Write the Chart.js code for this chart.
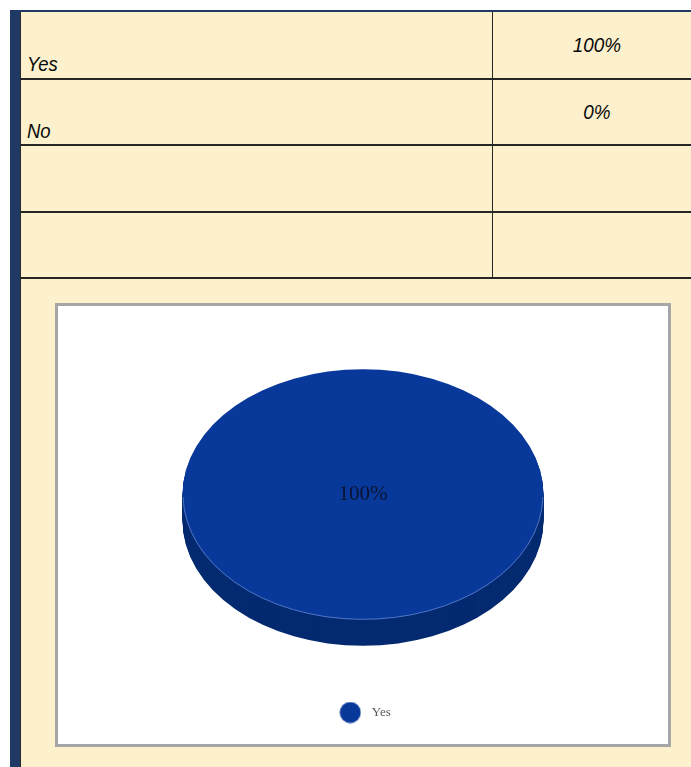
<!DOCTYPE html>
<html lang="en">
<head>
    <meta charset="UTF-8">
    <title>Yes / No</title>
    <script src="https://cdn.jsdelivr.net/npm/chart.js"></script>
    <style>
        body {
            margin: 0;
            width: 691px;
            height: 767px;
            overflow: hidden;
            position: relative;
            background: #ffffff;
            font-family: 'Liberation Sans', Arial, sans-serif;
        }
        .navy-left { position: absolute; left: 10px; top: 10px; width: 10px; height: 757px; background: #1f3864; }
        .navy-top { position: absolute; left: 10px; top: 10px; width: 681px; height: 2px; background: #1f3864; }
        .sheet { position: absolute; left: 20px; top: 12px; right: 0; bottom: 0; background: #fdf0cd; border-left: 1.5px solid #2a2a2a; }
        .hline { position: absolute; left: 20px; width: 671px; height: 1.5px; background: #262626; }
        .vline { position: absolute; left: 491.5px; top: 12px; width: 1.5px; height: 267px; background: #262626; }
        .cell-text {
            position: absolute;
            font-style: italic;
            font-size: 21px;
            line-height: 24px;
            color: #0a0a0a;
            white-space: nowrap;
        }
        .cell-label { left: 27px; transform: scaleX(0.88); transform-origin: left center; }
        .cell-value { left: 497px; width: 200px; text-align: center; transform: scaleX(0.9); transform-origin: center; }
        .chart-box {
            position: absolute;
            left: 55px;
            top: 303px;
            width: 610px;
            height: 438px;
            background: #ffffff;
            border: 3px solid #a6a6a6;
        }
    </style>
</head>
<body>
    <div class="navy-left"></div>
    <div class="navy-top"></div>
    <div class="sheet"></div>
    <div class="vline"></div>
    <div id="tableArea"></div>
    <div class="chart-box">
        <canvas id="pieChart"></canvas>
    </div>
    <script>
        // data
        const categories = ['Yes', 'No'];
        const percentValues = [100, 0];
        const sliceColors = ['#08399a', '#c0504d'];
        const sideColors = ['#042a70', '#8c3836'];

        // table rows (two empty rows under the answers)
        const rowLines = [79, 145, 212, 278];
        const tableArea = document.getElementById('tableArea');
        rowLines.forEach(function (y) {
            const line = document.createElement('div');
            line.className = 'hline';
            line.style.top = (y - 0.75) + 'px';
            tableArea.appendChild(line);
        });
        categories.forEach(function (cat, i) {
            const rowTop = i === 0 ? 12 : rowLines[i - 1];
            const label = document.createElement('div');
            label.className = 'cell-text cell-label';
            label.style.top = (rowTop + 40) + 'px';
            label.textContent = cat;
            tableArea.appendChild(label);

            const value = document.createElement('div');
            value.className = 'cell-text cell-value';
            value.style.top = (rowTop + 21) + 'px';
            value.textContent = percentValues[i] + '%';
            tableArea.appendChild(value);
        });

        const TILT = 125 / 180;
        const DEPTH = 26;

        function circleIcon(color) {
            const c = document.createElement('canvas');
            c.width = 22;
            c.height = 22;
            const g = c.getContext('2d');
            g.fillStyle = color;
            g.beginPath();
            g.arc(11, 11, 10.5, 0, Math.PI * 2);
            g.fill();
            return c;
        }

        // squashes the pie into an ellipse and gives it a side wall
        const pie3d = {
            id: 'pie3d',
            beforeDatasetsDraw(chart) {
                const ctx = chart.ctx;
                const arcs = chart.getDatasetMeta(0).data;
                if (!arcs.length) return;
                const cx = arcs[0].x, cy = arcs[0].y;
                ctx.save();
                for (let d = DEPTH; d > 0; d--) {
                    ctx.save();
                    ctx.translate(cx, cy + d);
                    ctx.scale(1, TILT);
                    ctx.translate(-cx, -cy);
                    arcs.forEach(function (arc, i) {
                        const p = arc.getProps(['x', 'y', 'startAngle', 'endAngle', 'outerRadius']);
                        if (p.endAngle - p.startAngle <= 0) return;
                        ctx.beginPath();
                        ctx.moveTo(p.x, p.y);
                        ctx.arc(p.x, p.y, p.outerRadius, p.startAngle, p.endAngle);
                        ctx.closePath();
                        ctx.fillStyle = sideColors[i];
                        ctx.fill();
                    });
                    ctx.restore();
                }
                ctx.translate(cx, cy);
                ctx.scale(1, TILT);
                ctx.translate(-cx, -cy);
            },
            afterDatasetsDraw(chart) {
                const ctx = chart.ctx;
                ctx.restore();
                const arcs = chart.getDatasetMeta(0).data;
                if (!arcs.length) return;
                const cx = arcs[0].x, cy = arcs[0].y;
                const r = arcs[0].outerRadius;

                // thin light rim where top meets the side
                ctx.save();
                ctx.beginPath();
                ctx.ellipse(cx, cy, r - 0.5, r * TILT - 0.5, 0, 0.02, Math.PI - 0.02);
                ctx.strokeStyle = 'rgba(110, 140, 210, 0.7)';
                ctx.lineWidth = 1;
                ctx.stroke();
                ctx.restore();

                const total = percentValues.reduce((a, b) => a + b, 0);
                ctx.save();
                ctx.font = '21px "Liberation Serif", "Times New Roman", serif';
                ctx.fillStyle = '#0a1430';
                ctx.textAlign = 'center';
                ctx.textBaseline = 'middle';
                arcs.forEach(function (arc, i) {
                    const v = percentValues[i];
                    if (!v) return;
                    const p = arc.getProps(['startAngle', 'endAngle']);
                    let lx = cx, ly = cy;
                    if (p.endAngle - p.startAngle < Math.PI * 2 - 0.001) {
                        const mid = (p.startAngle + p.endAngle) / 2;
                        lx = cx + Math.cos(mid) * r * 0.6;
                        ly = cy + Math.sin(mid) * r * 0.6 * TILT;
                    }
                    ctx.fillText(Math.round(v / total * 100) + '%', lx, ly);
                });
                ctx.restore();
            }
        };

        new Chart(document.getElementById('pieChart'), {
            type: 'pie',
            data: {
                labels: categories,
                datasets: [{
                    data: percentValues,
                    backgroundColor: sliceColors,
                    borderWidth: 0
                }]
            },
            options: {
                responsive: true,
                maintainAspectRatio: false,
                animation: false,
                events: [],
                layout: { padding: { top: 8, bottom: 15 } },
                plugins: {
                    tooltip: { enabled: false },
                    legend: {
                        position: 'bottom',
                        labels: {
                            usePointStyle: true,
                            pointStyleWidth: 30,
                            padding: 31,
                            color: '#595959',
                            font: { family: '"Liberation Serif", "Times New Roman", serif', size: 13 },
                            generateLabels: function () {
                                return categories.map(function (cat, i) {
                                    return {
                                        text: cat,
                                        fillStyle: sliceColors[i],
                                        strokeStyle: sliceColors[i],
                                        lineWidth: 0,
                                        pointStyle: circleIcon(sliceColors[i]),
                                        fontColor: '#595959',
                                        hidden: false,
                                        index: i
                                    };
                                }).filter(function (item) { return percentValues[item.index] > 0; });
                            }
                        }
                    }
                }
            },
            plugins: [pie3d]
        });
    </script>
</body>
</html>
